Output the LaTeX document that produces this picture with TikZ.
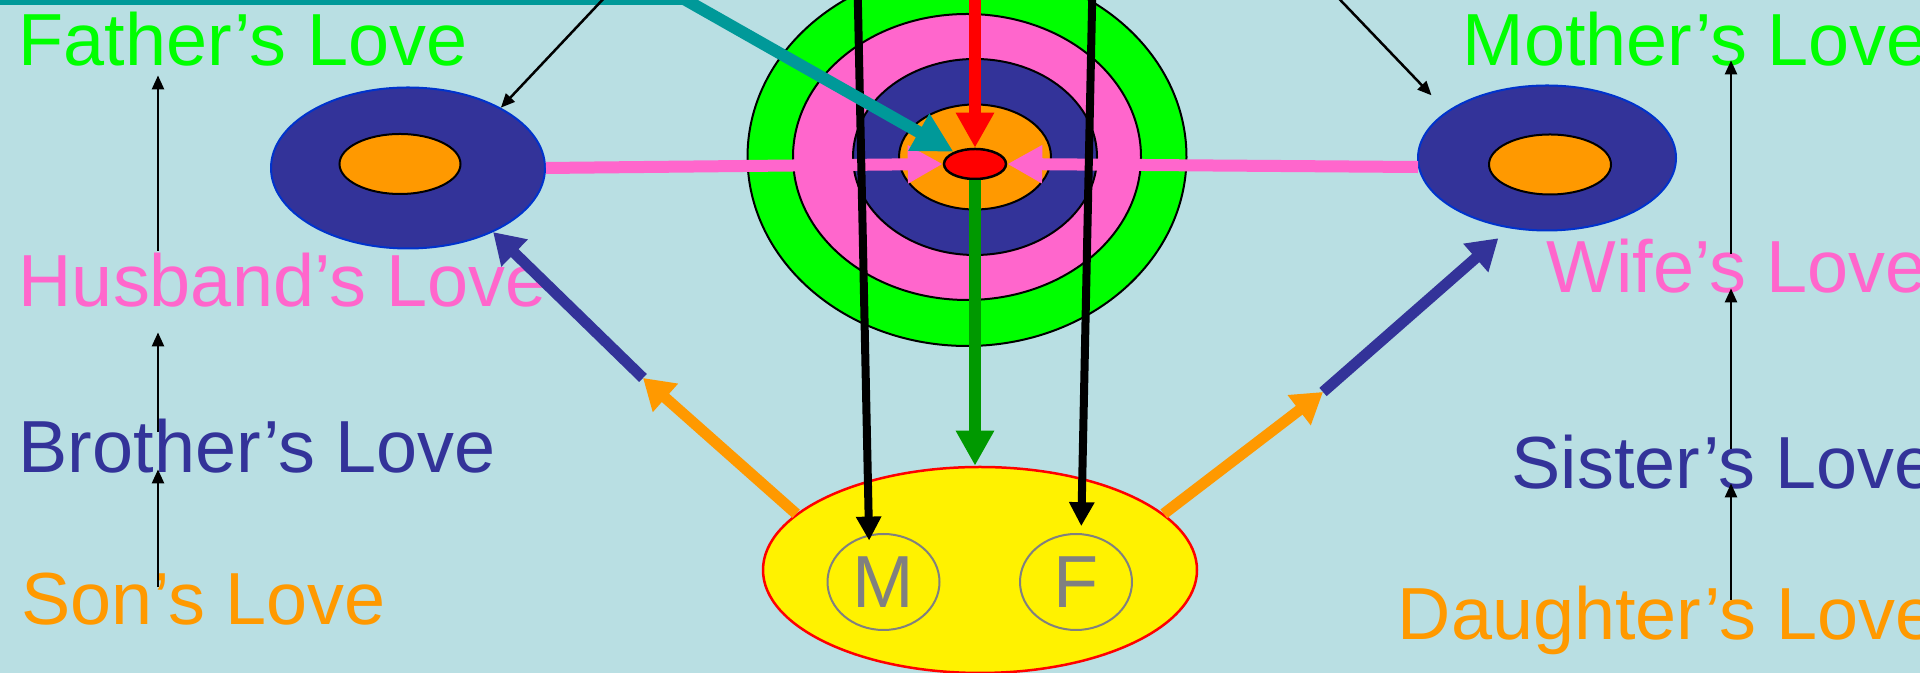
\documentclass[tikz,border=0pt]{standalone}
\usepackage{fontspec}
\setmainfont{Liberation Sans}
\usetikzlibrary{arrows.meta, shapes.geometric}
\definecolor{bgblue}{RGB}{185,223,227}
\definecolor{lovegreen}{RGB}{0,255,0}
\definecolor{lovepink}{RGB}{255,102,204}
\definecolor{lovenavy}{RGB}{51,51,153}
\definecolor{loveorange}{RGB}{255,153,0}
\definecolor{loveteal}{RGB}{0,153,153}
\definecolor{lovedkgreen}{RGB}{0,153,0}
\definecolor{ringedge}{RGB}{0,51,204}
\definecolor{mfgray}{RGB}{128,128,128}

\begin{document}
\begin{tikzpicture}[
        x=0.1mm, y=-0.1mm,
        >=Latex,
        love/.style={anchor=base west, inner sep=0pt, font=\fontsize{21pt}{25pt}\selectfont},
        ring/.style={ellipse, draw, line width=0.2mm, inner sep=0pt},
        ringouter/.style={ring, draw=ringedge, fill=lovenavy},
        ringinner/.style={ring, fill=loveorange},
        kid/.style={ellipse, draw=mfgray, line width=0.2mm, inner sep=0pt, minimum width=11.2mm, minimum height=9.6mm,
            text=mfgray, font=\fontsize{21pt}{25pt}\selectfont},
        thinflow/.style={-{Triangle[length=1.4mm,width=1.2mm]}, line width=0.25mm},
        fatflow/.style={-{Triangle[length=3.5mm,width=3.6mm]}, line width=1.2mm},
        midflow/.style={-{Triangle[length=3mm,width=3.6mm]}, line width=1.1mm},
        blackflow/.style={-{Triangle[length=2.4mm,width=2.4mm]}, line width=0.8mm}
    ]
    \useasboundingbox (0,0) rectangle (1920,673);
    \clip (0,0) rectangle (1920,673);
    \fill[bgblue] (0,0) rectangle (1920,673);

    % labels
    \node[love, text=lovegreen] (father) at (18,66) {Father’s Love};
    \node[love, text=lovepink] (husband) at (18,307) {Husband’s Love};
    \node[love, text=lovenavy] (brother) at (18,473) {Brother’s Love};
    \node[love, text=loveorange] (son) at (21,625) {Son’s Love};
    \node[love, text=lovegreen] (mother) at (1462,66) {Mother’s Love};
    \node[love, text=lovepink] (wife) at (1546,293) {Wife’s Love};
    \node[love, text=lovenavy] (sister) at (1511,489) {Sister’s Love};
    \node[love, text=loveorange] (daughter) at (1397,640) {Daughter’s Love};

    \coordinate (colL) at (158,0);
    \coordinate (colR) at (1731,0);
    \draw[thinflow, shorten <=0.2mm, shorten >=0.8mm] (husband.north -| colL) -- (father.south -| colL);
    \draw[thinflow, shorten <=-1.3mm, shorten >=2.4mm] (brother.north -| colL) -- (husband.south -| colL);
    \draw[thinflow, shorten <=-1.4mm, shorten >=-0.5mm] (son.north -| colL) -- (brother.south -| colL);
    \draw[thinflow, shorten <=-1.5mm, shorten >=-0.7mm] (wife.north -| colR) -- (mother.south -| colR);
    \draw[thinflow, shorten <=-1.4mm, shorten >=-0.6mm] (sister.north -| colR) -- (wife.south -| colR);
    \draw[thinflow, shorten <=-1.4mm, shorten >=-0.7mm] (daughter.north -| colR) -- (sister.south -| colR);

    % the rings in the middle
    \node[ring, fill=lovegreen, minimum width=43.9mm, minimum height=37.8mm] (gring) at (967,157) {};
    \node[ring, fill=lovepink, minimum width=34.8mm, minimum height=28.6mm] (pring) at (967,157) {};
    \node[ring, fill=lovenavy, minimum width=24.4mm, minimum height=19.6mm] (nring) at (975,157) {};
    \node[ring, fill=loveorange, minimum width=15.2mm, minimum height=10.5mm] (oring) at (975,157) {};

    % husband and wife
    \node[ringouter, minimum width=27.4mm, minimum height=16.1mm] (lring) at (408,168) {};
    \node[ringinner, minimum width=12.1mm, minimum height=6mm] (lcore) at (400,164) {};
    \node[ringouter, minimum width=25.8mm, minimum height=14.5mm] (rring) at (1547,158) {};
    \node[ringinner, minimum width=12.2mm, minimum height=6mm] (rcore) at (1550,164.5) {};

    % children
    \node[ellipse, draw=red, line width=0.25mm, fill=yellow, inner sep=0pt, minimum width=43.4mm, minimum height=20.6mm] (family) at (980,570) {};
    \node[kid] (mkid) at (883.5,582) {M};
    \node[kid] (fkid) at (1076,582) {F};

    \node[ellipse, draw, line width=0.25mm, fill=red, inner sep=0pt, minimum width=6.2mm, minimum height=3mm] (heart) at (975,164) {};
    \draw[fatflow, lovepink] (lring.east) -- (heart.west);
    \draw[fatflow, lovepink] (rring.184) -- (heart.east);

    \coordinate (blkL) at (857,-40);
    \coordinate (blkR) at (1093,-40);
    \draw[blackflow, shorten >=-0.6mm] (blkL) -- (mkid.107);
    \draw[blackflow, shorten >=0.7mm] (blkR) -- (fkid.84);

    \coordinate (tealsrc) at (-20,-1);
    \coordinate (tealbend) at (684,-1);
    \draw[-{Triangle[length=4mm,width=4mm]}, line width=1.2mm, loveteal] (tealsrc) -- (tealbend) -- (heart);

    \coordinate (redsrc) at (975,-40);
    \draw[fatflow, red] (redsrc) -- (heart.north);
    \draw[fatflow, lovedkgreen] (heart.south) -- (heart.south |- family.north);

    \coordinate (fathersrc) at (640,-40);
    \coordinate (mothersrc) at (1302,-40);
    \draw[thinflow] (fathersrc) -- (lring.33);
    \draw[thinflow, shorten >=2.2mm] (mothersrc) -- (rring.155);

    \coordinate (joinL) at (643,378);
    \coordinate (joinR) at (1323,392);
    \draw[midflow, loveorange] (family.163) -- (joinL);
    \draw[midflow, loveorange] (family.17) -- (joinR);
    \draw[midflow, lovenavy] (joinL) -- (lring.-37);
    \draw[midflow, lovenavy, shorten >=1.5mm] (joinR) -- (rring.242);
\end{tikzpicture}
\end{document}
